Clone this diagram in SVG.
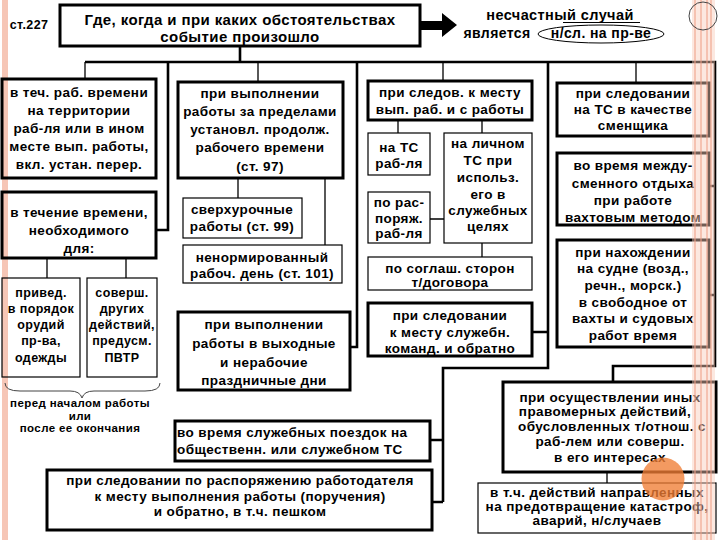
<svg xmlns="http://www.w3.org/2000/svg" width="720" height="540" viewBox="0 0 720 540">
<style>
.b{fill:none;stroke:#000;stroke-width:3}
.t{fill:none;stroke:#000;stroke-width:1.2}
.c{fill:none;stroke:#000;stroke-width:2.6}
.c1{fill:none;stroke:#000;stroke-width:1.3}
text{font-family:"Liberation Sans",Arial,sans-serif;font-weight:bold;font-size:13.5px;fill:#000;text-anchor:middle;letter-spacing:0.4px}
.l{text-anchor:start}
.s{font-size:12.5px}
.xs{font-size:11.5px}
</style>
<rect width="720" height="540" fill="#fff"/>
<rect x="2" y="0" width="6" height="540" fill="#f6c6b6"/>
<g id="connectors">
<path class="c" d="M240,46V62M85,62H715V366H613V382"/>
<path class="c1" d="M85,62V79M258,62V82M443,62V81M636,62V83"/>
<path class="c" d="M168,62V230H156M357,62V347H350M548,62V368H443V502M532,332H548M430,440H443M432,502H443M709,186H715M709,295H715"/>
<path class="c1" d="M47,258V278M126,258V278M238,178V198M325,178V245M398,120V133M482,120V133M430,219H444M482,243V257M607,472V483"/>
<path d="M5,383Q5,391 20,391H70Q80,391 82,398Q84,391 94,391H145Q160,391 160,383" fill="none" stroke="#444" stroke-width="1"/>
<polygon points="420,21 442,21 442,13 457,25 442,37 442,30 420,30" fill="#000"/>
</g>
<g id="label227"><text x="29" y="29" class="s">ст.227</text></g>
<g id="title">
<rect class="b" x="60" y="5" width="360" height="41"/>
<text x="240" y="25" style="font-size:15px">Где, когда и при каких обстоятельствах</text>
<text x="240" y="42" style="font-size:15px">событие произошло</text>
</g>
<g id="ns">
<text x="560" y="20" style="font-size:14.5px">несчастный  случай</text>
<line x1="563" y1="22.5" x2="640" y2="22.5" stroke="#000" stroke-width="1"/>
<text x="497" y="38" style="font-size:14px">является</text>
<text x="601" y="38" style="font-size:14px">н/сл. на пр-ве</text>
<ellipse cx="601" cy="34" rx="63" ry="9" fill="none" stroke="#000" stroke-width="1"/>
</g>
<g id="A">
<rect class="b" x="2" y="79" width="154" height="99"/>
<text x="79" y="97">в теч. раб. времени</text>
<text x="79" y="115">на территории</text>
<text x="79" y="133">раб-ля или в ином</text>
<text x="79" y="151">месте вып. работы,</text>
<text x="79" y="169">вкл. устан. перер.</text>
</g>
<g id="B">
<rect class="b" x="2" y="192" width="154" height="66"/>
<text x="79" y="217">в течение времени,</text>
<text x="79" y="235">необходимого</text>
<text x="79" y="253">для:</text>
</g>
<g id="C">
<rect class="t" x="2" y="278" width="78" height="99"/>
<text x="41" y="297" class="s">привед.</text>
<text x="41" y="313" class="s">в порядок</text>
<text x="41" y="329" class="s">орудий</text>
<text x="41" y="345" class="s">пр-ва,</text>
<text x="41" y="362" class="s">одежды</text>
</g>
<g id="D">
<rect class="t" x="87" y="278" width="70" height="99"/>
<text x="122" y="297" class="s">соверш.</text>
<text x="122" y="313" class="s">других</text>
<text x="122" y="329" class="s">действий,</text>
<text x="122" y="345" class="s">предусм.</text>
<text x="122" y="362" class="s">ПВТР</text>
</g>
<g id="brace">
<text x="80" y="407" class="xs">перед началом работы</text>
<text x="80" y="419.5" class="xs">или</text>
<text x="80" y="432" class="xs">после ее окончания</text>
</g>
<g id="E">
<rect class="b" x="178" y="82" width="165" height="96"/>
<text x="260" y="98">при выполнении</text>
<text x="260" y="116">работы за пределами</text>
<text x="260" y="134">установл. продолж.</text>
<text x="260" y="152">рабочего времени</text>
<text x="260" y="171">(ст. 97)</text>
</g>
<g id="F">
<rect class="t" x="183" y="198" width="119" height="40"/>
<text x="242" y="214">сверхурочные</text>
<text x="242" y="231">работы (ст. 99)</text>
</g>
<g id="G">
<rect class="t" x="183" y="245" width="159" height="38"/>
<text x="262" y="262">ненормированный</text>
<text x="262" y="278">рабоч. день (ст. 101)</text>
</g>
<g id="H">
<rect class="b" x="178" y="312" width="172" height="78"/>
<text x="264" y="329">при выполнении</text>
<text x="264" y="348">работы в выходные</text>
<text x="264" y="367">и нерабочие</text>
<text x="264" y="385">праздничные дни</text>
</g>
<g id="I">
<rect class="b" x="368" y="81" width="164" height="39"/>
<text x="450" y="97">при следов. к месту</text>
<text x="450" y="114">вып. раб. и с работы</text>
</g>
<g id="J">
<rect class="t" x="368" y="133" width="62" height="42"/>
<text x="399" y="152">на ТС</text>
<text x="399" y="168">раб-ля</text>
</g>
<g id="K">
<rect class="t" x="444" y="133" width="88" height="110"/>
<text x="488" y="148">на личном</text>
<text x="488" y="165">ТС при</text>
<text x="488" y="182">использ.</text>
<text x="488" y="199">его в</text>
<text x="488" y="215">служебных</text>
<text x="488" y="231">целях</text>
</g>
<g id="L">
<rect class="t" x="368" y="192" width="62" height="51"/>
<text x="399" y="207">по рас-</text>
<text x="399" y="223">поряж.</text>
<text x="399" y="238">раб-ля</text>
</g>
<g id="M">
<rect class="t" x="368" y="257" width="164" height="33"/>
<text x="450" y="273">по соглаш. сторон</text>
<text x="450" y="287">т/договора</text>
</g>
<g id="N">
<rect class="b" x="368" y="303" width="164" height="53"/>
<text x="450" y="320">при следовании</text>
<text x="450" y="337">к месту служебн.</text>
<text x="450" y="353">команд. и обратно</text>
</g>
<g id="O">
<rect class="b" x="557" y="83" width="152" height="53"/>
<text x="633" y="98">при следовании</text>
<text x="633" y="114">на ТС в качестве</text>
<text x="633" y="130">сменщика</text>
</g>
<g id="P">
<rect class="b" x="557" y="153" width="152" height="72"/>
<text x="633" y="170">во время между-</text>
<text x="633" y="188">сменного отдыха</text>
<text x="633" y="205">при работе</text>
<text x="633" y="222">вахтовым методом</text>
</g>
<g id="Q">
<rect class="b" x="557" y="240" width="152" height="107"/>
<text x="633" y="257">при нахождении</text>
<text x="633" y="273">на судне (возд.,</text>
<text x="633" y="290">речн., морск.)</text>
<text x="633" y="307">в свободное от</text>
<text x="633" y="323">вахты и судовых</text>
<text x="633" y="340">работ время</text>
</g>
<g id="R">
<rect class="b" x="503" y="382" width="213" height="90"/>
<text x="610" y="402">при осуществлении иных</text>
<text x="605" y="416">правомерных действий,</text>
<text x="612" y="431">обусловленных т/отнош. с</text>
<text x="610" y="446">раб-лем или соверш.</text>
<text x="610" y="462">в его интересах</text>
</g>
<g id="S">
<rect class="t" x="478" y="483" width="238" height="50"/>
<text x="597" y="497">в т.ч. действий направленных</text>
<text x="597" y="511">на предотвращение катастроф,</text>
<text x="597" y="525">аварий, н/случаев</text>
</g>
<g id="T">
<rect class="b" x="175" y="421" width="255" height="40"/>
<text x="177" y="437" class="l">во время служебных поездок на</text>
<text x="177" y="454" class="l">общественн. или служебном ТС</text>
</g>
<g id="U">
<rect class="b" x="47" y="470" width="385" height="60"/>
<text x="240" y="485">при следовании по распоряжению работодателя</text>
<text x="240" y="501">к месту выполнения работы (поручения)</text>
<text x="240" y="516">и обратно, в т.ч. пешком</text>
</g>
<g id="decor">
<rect x="692" y="0" width="23" height="540" fill="#f9cbbb" opacity="0.45"/>
<path d="M695,0V540M701,0V540M707,0V540M711,0V540" stroke="#f0a088" stroke-width="1.5" opacity="0.7"/>
<circle cx="703" cy="16" r="14" fill="none" stroke="#444" stroke-width="1"/>
<circle cx="663" cy="479" r="21.5" fill="#f07d34" opacity="0.78"/>
</g>
</svg>
